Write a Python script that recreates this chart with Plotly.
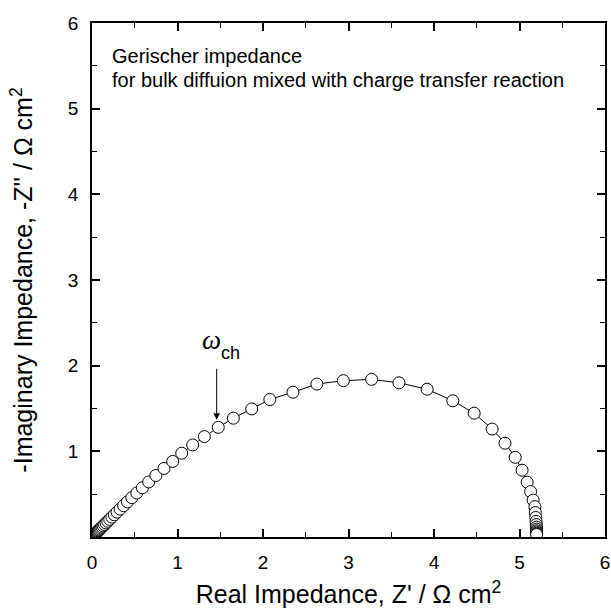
import plotly.graph_objects as go

# Real part Z' (ohm cm^2), from high frequency (origin) to low frequency
z_real = [0.0519, 0.0582, 0.0653, 0.0733, 0.0822, 0.0923, 0.1035, 0.1162, 0.1304, 0.1463,
          0.1642, 0.1843, 0.2069, 0.2322, 0.2607, 0.2926, 0.3286, 0.3691, 0.4147, 0.4660,
          0.5239, 0.5894, 0.6634, 0.7473, 0.8420,
          0.944, 1.049, 1.178, 1.314, 1.477, 1.653, 1.868, 2.08, 2.35, 2.63,
          2.94, 3.27, 3.59, 3.92, 4.22, 4.47, 4.68, 4.83, 4.95, 5.03,
          5.09, 5.13, 5.16, 5.18,
          5.185, 5.19, 5.194, 5.196, 5.198, 5.199, 5.199, 5.2, 5.2, 5.2, 5.2]
# Imaginary part -Z'' (ohm cm^2)
z_imag = [0.0519, 0.0582, 0.0653, 0.0733, 0.0822, 0.0922, 0.1035, 0.1161, 0.1302, 0.1461,
          0.1639, 0.1838, 0.2062, 0.2313, 0.2594, 0.2908, 0.3260, 0.3654, 0.4095, 0.4587,
          0.5136, 0.5748, 0.6428, 0.7182, 0.8009,
          0.882, 0.978, 1.075, 1.172, 1.280, 1.387, 1.495, 1.605, 1.69, 1.785,
          1.825, 1.84, 1.80, 1.725, 1.59, 1.445, 1.26, 1.095, 0.93, 0.78,
          0.64, 0.53, 0.43, 0.354,
          0.285, 0.228, 0.182, 0.145, 0.1155, 0.092, 0.073, 0.058, 0.046, 0.0366, 0.029]

x_ticks = [0, 1, 2, 3, 4, 5, 6]
y_ticks = [1, 2, 3, 4, 5, 6]

omega_ch = (1.458, 1.37)  # arrow tip location
omega_tail = 1.98

FONT = "Liberation Sans, Arial, sans-serif"

fig = go.Figure()
fig.add_trace(go.Scatter(
    x=z_real, y=z_imag, mode="lines+markers",
    line=dict(color="black", width=1),
    marker=dict(symbol="circle", size=12, color="white",
                line=dict(color="black", width=1)),
    showlegend=False,
))

axis_common = dict(
    showline=True, linecolor="black", linewidth=1.6, mirror="ticks",
    ticks="inside", ticklen=8, tickwidth=1.5, tickcolor="black",
    showgrid=False, zeroline=False, automargin=False,
    tickfont=dict(family=FONT, size=19, color="black"),
    minor=dict(ticks="inside", ticklen=5, tickwidth=1.3, tickcolor="black", dtick=0.5, showgrid=False),
)

fig.update_xaxes(
    range=[0, 6], tickvals=x_ticks, ticktext=[str(v) for v in x_ticks],
    title=dict(text="Real Impedance, Z' / Ω cm<sup>2</sup>",
               font=dict(family=FONT, size=25, color="black"), standoff=14),
    ticklabelstandoff=7,
    **axis_common,
)
fig.update_yaxes(
    range=[0, 6], tickvals=y_ticks, ticktext=[str(v) for v in y_ticks],
    title=dict(text="-Imaginary Impedance, -Z'' / Ω cm<sup>2</sup>",
               font=dict(family=FONT, size=25, color="black"), standoff=28),
    ticklabelstandoff=8,
    **axis_common,
)

annotations = [
    dict(x=0.21, y=5.61, xref="x", yref="y", text="Gerischer impedance",
         showarrow=False, xanchor="left", yanchor="middle",
         font=dict(family=FONT, size=20, color="black")),
    dict(x=0.21, y=5.34, xref="x", yref="y",
         text="for bulk diffuion mixed with charge transfer reaction",
         showarrow=False, xanchor="left", yanchor="middle",
         font=dict(family=FONT, size=20, color="black")),
    dict(x=omega_ch[0], y=omega_ch[1], xref="x", yref="y",
         ax=omega_ch[0], ay=omega_tail, axref="x", ayref="y",
         text="", showarrow=True, arrowhead=2, arrowsize=1.3, arrowwidth=1,
         arrowcolor="black"),
    dict(x=1.40, y=2.30, xref="x", yref="y", text="<i>ω</i>",
         showarrow=False, xanchor="center", yanchor="middle",
         font=dict(family="Liberation Serif, Times New Roman, serif", size=27, color="black")),
    dict(x=1.62, y=2.15, xref="x", yref="y", text="ch",
         showarrow=False, xanchor="center", yanchor="middle",
         font=dict(family=FONT, size=18, color="black")),
]

fig.update_layout(
    width=611, height=609,
    margin=dict(l=92, r=6, t=23, b=72),
    paper_bgcolor="white", plot_bgcolor="white",
    annotations=annotations,
    showlegend=False,
)

fig.write_html("out.html", config={"displayModeBar": False},
               post_script="document.body.style.margin='0';document.body.style.overflow='hidden';")
